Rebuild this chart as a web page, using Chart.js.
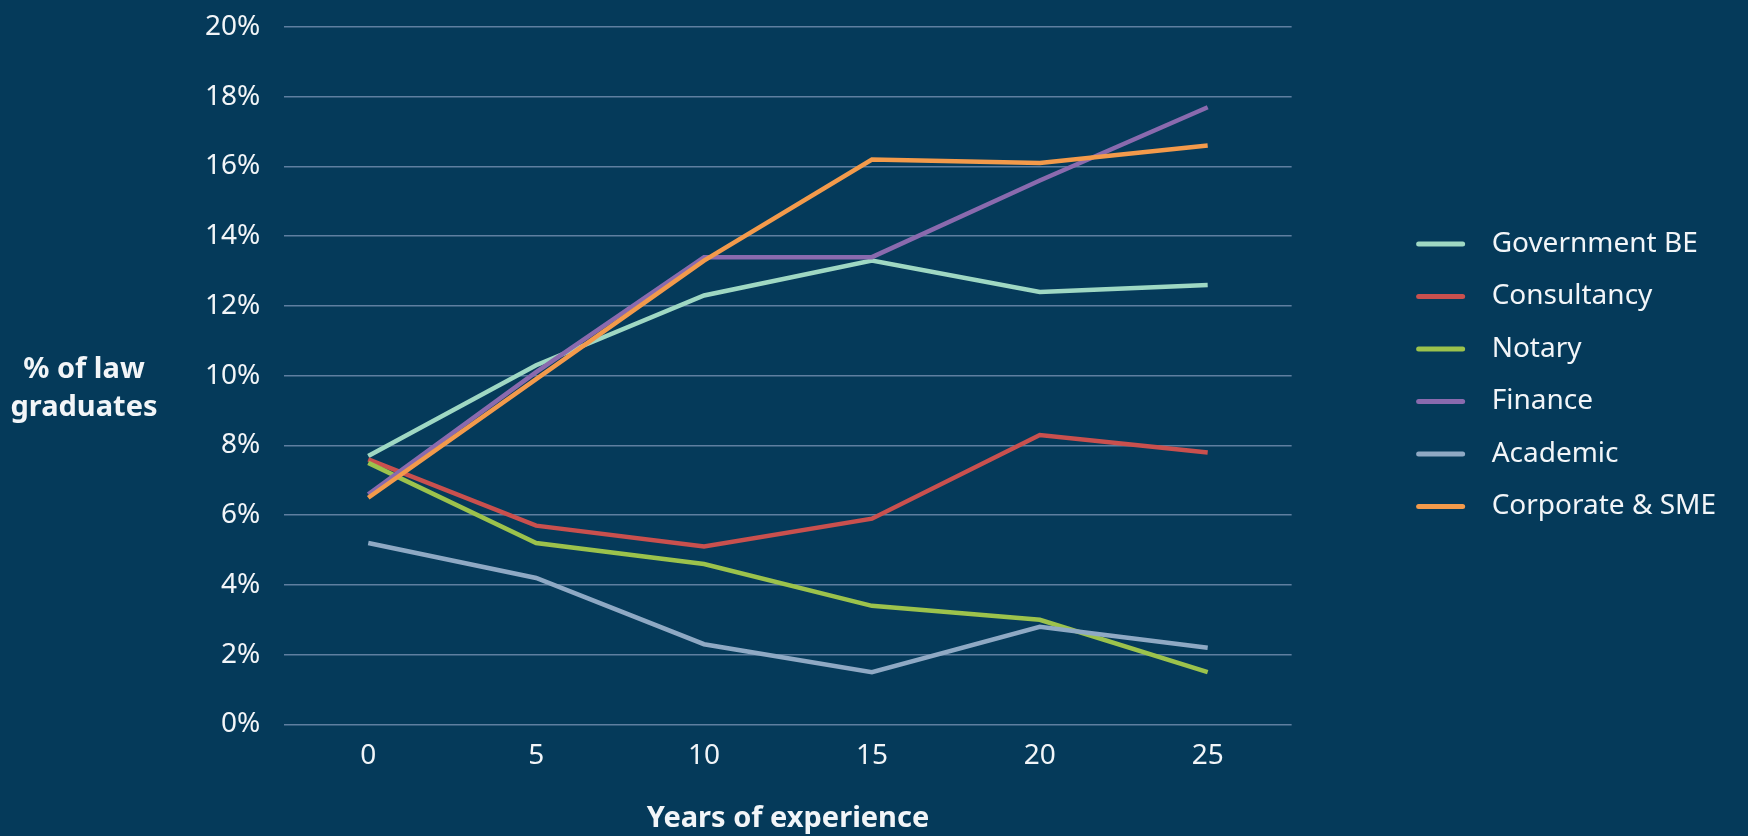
<!DOCTYPE html>
<html>
<head>
<meta charset="utf-8">
<script src="https://cdn.jsdelivr.net/npm/chart.js@4"></script>
<style>
  html, body { margin: 0; padding: 0; background: #053a5a; }
  #wrap { width: 1748px; height: 836px; position: relative; }
</style>
</head>
<body>
<div id="wrap"><canvas id="lawChart"></canvas></div>
<script>
// years of experience
var years = ['0', '5', '10', '15', '20', '25'];

// share of law graduates (%) per sector
var governmentBE = [7.7, 10.3, 12.3, 13.3, 12.4, 12.6];
var consultancy  = [7.6, 5.7, 5.1, 5.9, 8.3, 7.8];
var notary       = [7.5, 5.2, 4.6, 3.4, 3.0, 1.5];
var finance      = [6.6, 10.1, 13.4, 13.4, 15.6, 17.7];
var academic     = [5.2, 4.2, 2.3, 1.5, 2.8, 2.2];
var corporateSME = [6.5, 9.9, 13.3, 16.2, 16.1, 16.6];

var seriesNames  = ['Government BE', 'Consultancy', 'Notary', 'Finance', 'Academic', 'Corporate & SME'];
var seriesValues = [governmentBE, consultancy, notary, finance, academic, corporateSME];
var seriesColors = ['#9fd8c3', '#c9504e', '#9cc24c', '#8a6aae', '#8fa9c4', '#f39a4b'];

var textColor = '#f2f5f8';
var fontFamily = '"Noto Sans", sans-serif';
var legendSize = 28;

// later series are drawn on top, like the original
var datasets = seriesNames.map(function (name, i) {
  return {
    label: name,
    data: seriesValues[i],
    borderColor: seriesColors[i],
    backgroundColor: seriesColors[i],
    borderWidth: 4.5,
    pointRadius: 0,
    tension: 0,
    fill: false,
    order: seriesNames.length - i
  };
});

// horizontal y axis title on the left
var yTitle = {
  id: 'yTitle',
  afterDraw: function (chart) {
    var ctx = chart.ctx;
    ctx.save();
    ctx.fillStyle = textColor;
    ctx.font = 'bold 29px ' + fontFamily;
    ctx.textAlign = 'center';
    ctx.textBaseline = 'middle';
    ctx.fillText('% of law', 84, 370);
    ctx.fillText('graduates', 84, 408);
    ctx.restore();
  }
};

// short line swatches in the legend
var legendLines = {
  id: 'legendLines',
  afterDraw: function (chart) {
    var lg = chart.legend;
    var ctx = chart.ctx;
    var bw = lg.options.labels.boxWidth;
    ctx.save();
    ctx.lineWidth = 5;
    ctx.lineCap = 'round';
    lg.legendItems.forEach(function (item, i) {
      var box = lg.legendHitBoxes[i];
      var y = box.top + box.height / 2;
      var textX = box.left + bw + legendSize / 2;
      ctx.strokeStyle = seriesColors[item.datasetIndex];
      ctx.beginPath();
      ctx.moveTo(textX - 73, y);
      ctx.lineTo(textX - 29, y);
      ctx.stroke();
    });
    ctx.restore();
  }
};

var ctx = document.getElementById('lawChart').getContext('2d');
var chart = new Chart(ctx, {
  type: 'line',
  data: {
    labels: years,
    datasets: datasets
  },
  plugins: [yTitle, legendLines],
  options: {
    responsive: true,
    maintainAspectRatio: false,
    animation: false,
    layout: {
      padding: { left: 201, right: 22, top: 27, bottom: 0 }
    },
    plugins: {
      tooltip: { enabled: false },
      legend: {
        position: 'right',
        align: 'start',
        maxWidth: 500,
        title: { display: true, text: ' ', padding: { top: 164, bottom: 0 } },
        labels: {
          color: textColor,
          font: { family: fontFamily, size: legendSize },
          boxWidth: 161.5,
          padding: 24.5,
          sort: function (a, b) { return a.datasetIndex - b.datasetIndex; },
          generateLabels: function (chart) {
            var items = Chart.defaults.plugins.legend.labels.generateLabels(chart);
            items.forEach(function (it) {
              it.fillStyle = 'rgba(0,0,0,0)';
              it.strokeStyle = 'rgba(0,0,0,0)';
              it.lineWidth = 0;
            });
            return items;
          }
        }
      }
    },
    scales: {
      x: {
        offset: true,
        grid: { display: false, drawTicks: false },
        border: { display: false },
        ticks: {
          color: textColor,
          font: { family: fontFamily, size: 28 },
          padding: 14.6
        },
        title: {
          display: true,
          text: 'Years of experience',
          color: textColor,
          font: { family: fontFamily, size: 29, weight: 'bold' },
          padding: { top: 14, bottom: 0 }
        }
      },
      y: {
        min: 0,
        max: 20,
        grid: { color: '#5f7fa0', lineWidth: 1.5, drawTicks: true, tickLength: 20, tickColor: 'rgba(0,0,0,0)' },
        border: { display: false },
        ticks: {
          stepSize: 2,
          color: textColor,
          font: { family: fontFamily, size: 28 },
          padding: 4,
          callback: function (v) { return v + '%'; }
        }
      }
    }
  }
});
</script>
</body>
</html>
